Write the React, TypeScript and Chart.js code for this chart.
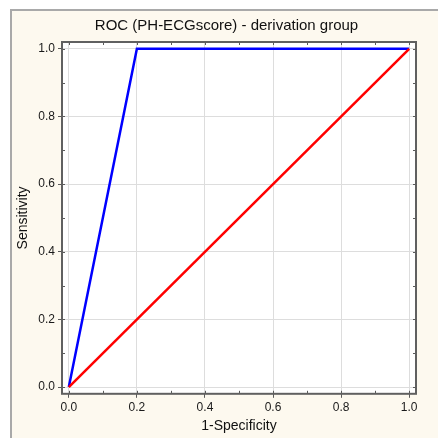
import { useEffect, useRef } from "react";
import { Chart, registerables } from "chart.js";

Chart.register(...registerables);

const titleText = "ROC (PH-ECGscore) - derivation group";
const xAxisTitle = "1-Specificity";
const yAxisTitle = "Sensitivity";

const rocX = [0, 0.2, 1];
const rocY = [0, 1, 1];
const refX = [0, 1];
const refY = [0, 1];

const axisMin = -0.02;
const axisMax = 1.02;
const majorStep = 0.2;
const innerTickValues = [0, 0.1, 0.2, 0.3, 0.4, 0.5, 0.6, 0.7, 0.8, 0.9, 1.0];

const FONT = "'Liberation Sans', Arial, sans-serif";

const framePlugin = {
  id: "framePlugin",
  beforeDraw(chart: any) {
    const { ctx, chartArea } = chart;
    ctx.save();
    ctx.fillStyle = "#ffffff";
    ctx.fillRect(chartArea.left, chartArea.top, chartArea.right - chartArea.left, chartArea.bottom - chartArea.top);
    ctx.restore();
  },
  afterDraw(chart: any) {
    const { ctx, chartArea, scales } = chart;
    const { left, right, top, bottom } = chartArea;
    ctx.save();
    ctx.strokeStyle = "#5a5a5a";
    ctx.lineWidth = 1;
    ctx.beginPath();
    for (const v of innerTickValues) {
      const px = Math.round(scales.x.getPixelForValue(v)) + 0.5;
      const py = Math.round(scales.y.getPixelForValue(v)) + 0.5;
      ctx.moveTo(px, top);
      ctx.lineTo(px, top + 3);
      ctx.moveTo(px, bottom);
      ctx.lineTo(px, bottom - 3);
      ctx.moveTo(left, py);
      ctx.lineTo(left + 3, py);
      ctx.moveTo(right, py);
      ctx.lineTo(right - 3, py);
    }
    ctx.stroke();
    ctx.strokeStyle = "#606060";
    ctx.lineWidth = 2;
    ctx.strokeRect(left, top, right - left, bottom - top);
    ctx.restore();
  },
};

export default function App() {
  const canvasRef = useRef<HTMLCanvasElement | null>(null);

  useEffect(() => {
    if (!canvasRef.current) return;
    const chart = new Chart(canvasRef.current, {
      type: "line",
      data: {
        datasets: [
          {
            label: "Reference",
            data: refX.map((x, i) => ({ x, y: refY[i] })),
            borderColor: "#ff0000",
            borderWidth: 2.5,
            pointRadius: 0,
            fill: false,
          },
          {
            label: "ROC",
            data: rocX.map((x, i) => ({ x, y: rocY[i] })),
            borderColor: "#0000ff",
            borderWidth: 2.5,
            pointRadius: 0,
            fill: false,
          },
        ],
      },
      options: {
        responsive: false,
        animation: false,
        layout: { padding: { left: 15, right: 0, top: 0, bottom: 0 } },
        plugins: {
          legend: { display: false },
          tooltip: { enabled: false },
          title: {
            display: true,
            text: titleText,
            color: "#111111",
            font: { family: FONT, size: 15, weight: "normal" },
            padding: { top: 17, bottom: 7 },
          },
        },
        scales: {
          x: {
            type: "linear",
            min: axisMin,
            max: axisMax,
            border: { display: false },
            grid: { color: "#dddddd", lineWidth: 1, tickLength: 4, tickColor: "#5a5a5a" },
            ticks: {
              stepSize: majorStep,
              includeBounds: false,
              padding: 3,
              color: "#1a1a1a",
              font: { family: FONT, size: 12 },
              callback: (v: any) => Number(v).toFixed(1),
            },
            title: {
              display: true,
              text: xAxisTitle,
              color: "#111111",
              font: { family: FONT, size: 14 },
              padding: { top: 0, bottom: 3 },
            },
          },
          y: {
            type: "linear",
            min: axisMin,
            max: axisMax,
            border: { display: false },
            grid: { color: "#dddddd", lineWidth: 1, tickLength: 4, tickColor: "#5a5a5a" },
            ticks: {
              stepSize: majorStep,
              includeBounds: false,
              padding: 3,
              color: "#1a1a1a",
              font: { family: FONT, size: 12 },
              callback: (v: any) => Number(v).toFixed(1),
            },
            title: {
              display: true,
              text: yAxisTitle,
              color: "#111111",
              font: { family: FONT, size: 14 },
              padding: { top: 0, bottom: 0 },
            },
            afterFit: (scale: any) => {
              scale.width = 47;
            },
          },
          yRight: {
            type: "linear",
            position: "right",
            display: true,
            min: axisMin,
            max: axisMax,
            border: { display: false },
            grid: { display: false, drawTicks: false },
            ticks: { display: false },
            afterFit: (scale: any) => {
              scale.width = 22;
            },
          },
        },
      },
      plugins: [framePlugin],
    });
    return () => chart.destroy();
  }, []);

  return (
    <div
      style={{
        position: "fixed",
        left: 0,
        top: 0,
        width: 438,
        height: 438,
        overflow: "hidden",
        background: "#ffffff",
      }}
    >
      <div
        style={{
          position: "absolute",
          left: 10,
          top: 9,
          width: 440,
          height: 440,
          background: "#fdf9ef",
          borderLeft: "2px solid #a9a9a9",
          borderTop: "2px solid #a9a9a9",
        }}
      />
      <canvas ref={canvasRef} width={438} height={438} style={{ position: "absolute", left: 0, top: 0 }} />
    </div>
  );
}
